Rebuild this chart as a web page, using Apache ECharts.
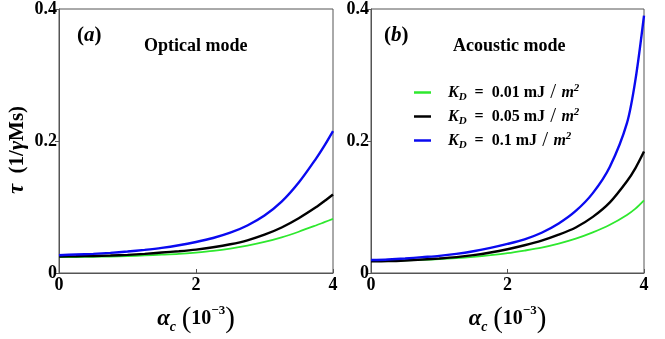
<!DOCTYPE html>
<html>
<head>
<meta charset="utf-8">
<script src="https://cdn.jsdelivr.net/npm/echarts@6/dist/echarts.min.js"></script>
<style>
  html, body { margin: 0; padding: 0; background: #fff; }
  #chart { width: 665px; height: 339px; }
</style>
</head>
<body>
<div id="chart"></div>
<script>
// alpha_c values (10^-3)
const alphaC = [0, 0.25, 0.5, 0.75, 1, 1.25, 1.5, 1.75, 2, 2.25, 2.5, 2.75, 3, 3.25, 3.5, 3.75, 3.875, 4]
const kdNames = ['0.01', '0.05', '0.1']
const kdColors = ['#2ee82e', '#000000', '#0a0af0']
const kdWidths = [1.8, 2.4, 2.4]

// (a) optical mode
const opticalKd001 = [0.024, 0.0242, 0.0245, 0.025, 0.0257, 0.0266, 0.0277, 0.029, 0.031, 0.0335, 0.037, 0.0415, 0.047, 0.054, 0.0625, 0.072, 0.077, 0.082]
const opticalKd005 = [0.025, 0.0253, 0.0258, 0.0265, 0.0275, 0.029, 0.031, 0.033, 0.0355, 0.039, 0.0435, 0.0495, 0.058, 0.069, 0.083, 0.0995, 0.109, 0.119]
const opticalKd01 = [0.027, 0.028, 0.029, 0.0305, 0.0325, 0.035, 0.038, 0.042, 0.047, 0.053, 0.061, 0.072, 0.087, 0.108, 0.137, 0.173, 0.193, 0.215]

// (b) acoustic mode
const acousticKd001 = [0.018, 0.0185, 0.019, 0.020, 0.021, 0.0225, 0.0245, 0.027, 0.030, 0.034, 0.0385, 0.0445, 0.052, 0.0615, 0.073, 0.088, 0.0975, 0.110]
const acousticKd005 = [0.0176, 0.018, 0.019, 0.0205, 0.022, 0.024, 0.027, 0.031, 0.036, 0.042, 0.049, 0.058, 0.069, 0.085, 0.107, 0.139, 0.159, 0.184]
const acousticKd01 = [0.0196, 0.0205, 0.022, 0.024, 0.026, 0.029, 0.033, 0.038, 0.044, 0.051, 0.061, 0.075, 0.094, 0.121, 0.161, 0.227, 0.293, 0.390]

const yTicks = [0, 0.2, 0.4]
const xTicks = [0, 2, 4]

const font = 'Liberation Serif'
const pair = (xs, ys) => xs.map((x, i) => [x, ys[i]])

function makeX(idx) {
  return {
    gridIndex: idx, type: 'value', min: xTicks[0], max: xTicks[2], interval: 2,
    axisLine: { lineStyle: { color: '#555', width: 1 } },
    axisTick: { inside: true, length: 4, lineStyle: { color: '#555' } },
    splitLine: { show: false },
    axisLabel: { color: '#000', fontFamily: font, fontWeight: 'bold', fontSize: 18, margin: 3 },
    name: '{a|α}{c|c}{s|  }{p|(}{n|10}{e|−3}{p|)}',
    nameLocation: 'middle',
    nameGap: 31,
    nameTextStyle: {
      rich: {
        a: { fontFamily: font, fontStyle: 'italic', fontWeight: 'bold', fontSize: 23, color: '#000', lineHeight: 30, verticalAlign: 'middle' },
        c: { fontFamily: font, fontStyle: 'italic', fontWeight: 'bold', fontSize: 14, color: '#000', lineHeight: 28, verticalAlign: 'bottom' },
        s: { fontSize: 10, lineHeight: 30 },
        p: { fontFamily: font, fontSize: 29, color: '#000', lineHeight: 30, verticalAlign: 'middle' },
        n: { fontFamily: font, fontWeight: 'bold', fontSize: 20, color: '#000', lineHeight: 30, verticalAlign: 'middle' },
        e: { fontFamily: font, fontWeight: 'bold', fontSize: 13, color: '#000', lineHeight: 30, verticalAlign: 'top' }
      }
    }
  }
}

function makeY(idx, withName) {
  const ax = {
    gridIndex: idx, type: 'value', min: yTicks[0], max: yTicks[2], interval: 0.2,
    axisLine: { lineStyle: { color: '#555', width: 1 } },
    axisTick: { inside: false, length: 4, lineStyle: { color: '#555' } },
    splitLine: { show: false },
    axisLabel: {
      color: '#000', fontFamily: font, fontWeight: 'bold', fontSize: 18, margin: 2,
      formatter: v => String(v)
    }
  }
  if (withName) {
    ax.name = '{t|τ}{r|  (1/}{g|γ}{r|Ms)}'
    ax.nameLocation = 'middle'
    ax.nameGap = 30
    ax.nameTextStyle = {
      padding: [0, 18, 0, 0],
      rich: {
        t: { fontFamily: font, fontStyle: 'italic', fontWeight: 'bold', fontSize: 23, color: '#000' },
        r: { fontFamily: font, fontWeight: 'bold', fontSize: 21, color: '#000' },
        g: { fontFamily: font, fontStyle: 'italic', fontWeight: 'bold', fontSize: 22, color: '#000' }
      }
    }
  }
  return ax
}

function makeSeries(idx, arrays) {
  return arrays.map((ys, k) => ({
    name: kdNames[k],
    type: 'line',
    xAxisIndex: idx,
    yAxisIndex: idx,
    data: pair(alphaC, ys),
    smooth: 0.3,
    showSymbol: false,
    symbol: 'none',
    z: 2 + k,
    lineStyle: { color: kdColors[k], width: kdWidths[k] },
    itemStyle: { color: kdColors[k] }
  }))
}

const panelText = (left, letter, label, labelLeft) => [
  {
    left: left, top: 20,
    text: '{p|(}{i|' + letter + '}{p|)}',
    textStyle: {
      rich: {
        p: { fontFamily: font, fontWeight: 'bold', fontSize: 21, color: '#000' },
        i: { fontFamily: font, fontWeight: 'bold', fontStyle: 'italic', fontSize: 21, color: '#000' }
      }
    }
  },
  {
    left: labelLeft, top: 32,
    text: label,
    textStyle: { fontFamily: font, fontWeight: 'bold', fontSize: 18, color: '#000' }
  }
]

const option = {
  animation: false,
  backgroundColor: '#fff',
  title: [].concat(
    panelText(72, 'a', 'Optical mode', 139),
    panelText(379, 'b', 'Acoustic mode', 448)
  ),
  legend: {
    data: kdNames,
    orient: 'vertical',
    left: 409,
    top: 77,
    itemWidth: 17,
    itemHeight: 2.5,
    itemGap: 3,
    icon: 'rect',
    formatter: n => '{k|K}{d|D}{t|  =  ' + n + ' mJ}{s| / }{m|m}{e|2}',
    textStyle: {
      padding: [0, 0, 0, 12],
      rich: {
        k: { fontFamily: font, fontStyle: 'italic', fontWeight: 'bold', fontSize: 16, color: '#000', lineHeight: 20, verticalAlign: 'middle' },
        d: { fontFamily: font, fontStyle: 'italic', fontWeight: 'bold', fontSize: 11, color: '#000', lineHeight: 19, verticalAlign: 'bottom' },
        t: { fontFamily: font, fontWeight: 'bold', fontSize: 16, color: '#000', lineHeight: 20, verticalAlign: 'middle' },
        s: { fontFamily: font, fontSize: 21, color: '#000', lineHeight: 20, verticalAlign: 'middle' },
        m: { fontFamily: font, fontStyle: 'italic', fontWeight: 'bold', fontSize: 16, color: '#000', lineHeight: 20, verticalAlign: 'middle' },
        e: { fontFamily: font, fontStyle: 'italic', fontWeight: 'bold', fontSize: 11, color: '#000', lineHeight: 20, verticalAlign: 'top' }
      }
    }
  },
  grid: [
    { left: 59, right: 332, top: 8, bottom: 59, show: true, borderColor: '#555', borderWidth: 1 },
    { left: 371, right: 21, top: 8, bottom: 59, show: true, borderColor: '#555', borderWidth: 1 }
  ],
  xAxis: [makeX(0), makeX(1)],
  yAxis: [makeY(0, true), makeY(1, false)],
  series: [].concat(
    makeSeries(0, [opticalKd001, opticalKd005, opticalKd01]),
    makeSeries(1, [acousticKd001, acousticKd005, acousticKd01])
  )
}

const chart = echarts.init(document.getElementById('chart'))
chart.setOption(option)
</script>
</body>
</html>
